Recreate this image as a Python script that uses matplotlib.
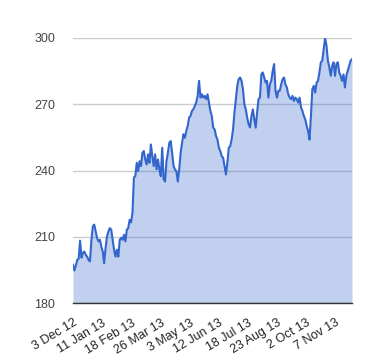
import numpy as np
import matplotlib.pyplot as plt

# closing prices, roughly one per trading day step
prices = [197.3, 194.7, 197, 199.5, 200, 208.2, 200.5, 202.7, 203.3, 201.8,
          201, 199.5, 198.8, 208.6, 214.7, 215.5, 212.4, 209.5, 207.9, 208.6,
          205.6, 203.3, 198, 205, 210.1, 212.4, 213.9, 213.2, 208.6, 204.1,
          201, 204.1, 201, 208.6, 209.5, 208.6, 210.9, 207.9, 213.2, 213.9,
          217.7, 216.5, 221,
          236.8, 237.4, 243.5, 239.7, 244.2, 242, 248, 248.8, 245, 242.7,
          247.3, 243.5, 251.8, 246.5, 242, 247.3, 240.5, 245, 240.5, 237.4,
          250.3, 236, 235, 244.2, 248, 252.5, 253.3, 248, 242, 240.5,
          239.7, 235, 240.5,
          248, 252.5, 256.4, 254.8, 257.9, 260.2, 264, 264.7, 267, 267.7,
          269.2, 270.8, 273.8, 280.6, 273, 274.5, 273, 273.8, 272.3, 274.5,
          270.8, 267, 264.7, 259.4, 258.6, 255.6, 254, 250.3, 248.8, 246.5,
          245.8, 242, 238.2, 243.5, 250.3, 251, 254, 258.6, 266.2, 272.3,
          278.3,
          281.4, 282.1, 280.6, 276.8, 270, 267.7, 263.9, 260.9, 259.5, 264.7,
          267.7, 263.2, 259.4, 266.2, 272.3, 273, 283.6, 284.4, 282.1, 279.8,
          280.6, 273, 279, 280.6, 285.1, 288.2, 276.1, 273, 276.1, 276.1,
          279, 281.4, 282.1, 279, 277.6,
          274.5, 273, 272.3, 273.8, 271.5, 273, 272.3, 270.8, 273, 268.5,
          267, 264.7, 263.2, 260.2, 257.9, 254, 264.7, 276.8, 278.3, 275.3,
          279.8, 280.6, 284.4, 289, 289.7, 295, 300, 296.5, 289.7, 286.7,
          282.9, 287.4, 289, 282.9, 288.2, 289, 284.4, 282.9, 280.6, 283.5,
          277.6, 282.9, 285.1, 287.4, 289.7, 290.4]

n_days = 250  # trading days shown
tick_days = [0, 26, 52, 78, 104, 130, 156, 182, 208, 234]
tick_labels = ['3 Dec 12', '11 Jan 13', '18 Feb 13', '26 Mar 13', '3 May 13',
               '12 Jun 13', '18 Jul 13', '23 Aug 13', '2 Oct 13', '7 Nov 13']
y_ticks = [180, 210, 240, 270, 300]

plt.rcParams['font.family'] = ['Liberation Sans', 'DejaVu Sans']

x = np.linspace(0, n_days - 1, len(prices))

fig = plt.figure(figsize=(3.8, 3.6), dpi=100)
ax = fig.add_axes([73/380, 57/360, 279/380, 265/360])

ax.fill_between(x, 180, prices, color='#3366cc', alpha=0.3, linewidth=0, zorder=2)
ax.plot(x, prices, color='#3366cc', linewidth=1.5, zorder=3)

ax.set_xlim(0, n_days - 1)
ax.set_ylim(180, 300)
ax.set_yticks(y_ticks)
ax.set_xticks(tick_days)
ax.set_xticklabels(tick_labels, rotation=31, ha='right', rotation_mode='anchor')
ax.tick_params(axis='y', length=0, pad=13, labelsize=9, labelcolor='#444444')
ax.tick_params(axis='x', length=0, pad=10, labelsize=9, labelcolor='#222222')

ax.grid(axis='y', color='#cccccc', linewidth=1, zorder=1)
ax.set_axisbelow(True)
for s in ['top', 'right', 'left']:
    ax.spines[s].set_visible(False)
ax.spines['bottom'].set_color('#333333')
ax.spines['bottom'].set_linewidth(1)
ax.spines['bottom'].set_zorder(4)

fig.savefig('out.png', dpi=100)
